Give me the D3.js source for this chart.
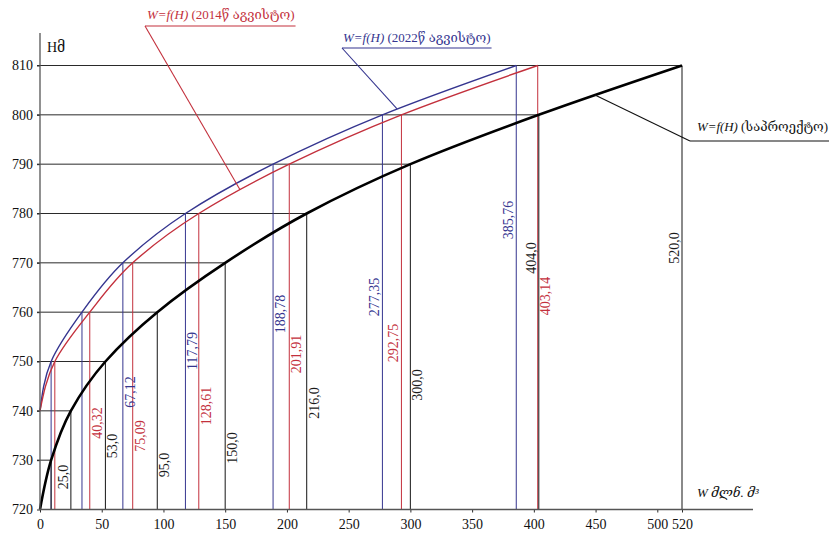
<!DOCTYPE html>
<html>
<head>
<meta charset="utf-8">
<script src="https://cdn.jsdelivr.net/npm/d3@7"></script>
<style>
  html, body { margin: 0; padding: 0; background: #fff; }
  svg { display: block; }
  text { font-family: "Liberation Serif", "DejaVu Serif", serif; }
</style>
</head>
<body>
<svg id="chart" width="832" height="534"></svg>
<script>
// Water level H (m) and reservoir volume W (mln m³)
const designLevels = [720, 730, 740, 750, 760, 770, 780, 790, 800, 810];
const designVolume = [0, 9, 25.0, 53.0, 95.0, 150.0, 216.0, 300.0, 404.0, 520.0];

const surveyLevels = [740, 750, 760, 770, 780, 790, 800, 810];
const volume2014 = [0, 12, 40.32, 75.09, 128.61, 201.91, 292.75, 403.14];
const volume2022 = [0, 9, 34, 67.12, 117.79, 188.78, 277.35, 385.76];

const xTicks = [0, 50, 100, 150, 200, 250, 300, 350, 400, 450, 500, 520];
const yTicks = [720, 730, 740, 750, 760, 770, 780, 790, 800, 810];

// which volumes carry a printed value
const designLabelled = [false, false, true, true, true, true, true, true, true, true];
const labelled2014 = [false, false, true, true, true, true, true, true];
const labelled2022 = [false, false, false, true, true, true, true, true];

// label placement: centre y in px and side of the line (-1 left, +1 right)
const designLabelPos = [null, null, [477, -1], [446, 1], [465, 1], [448, 1], [403, 1], [385, 1], [258, -1], [248, -1]];
const pos2014 = [null, null, [423, 1], [436, 1], [406, 1], [354, 1], [343, -1], [296, 1]];
const pos2022 = [null, null, null, [392, 1], [351, 1], [314, 1], [297, -1], [220, -1]];

const RED = "#c3303c", BLUE = "#35358f", GRID = "#2a2a2a";

const svg = d3.select("#chart");
const x = d3.scaleLinear().domain([0, 520]).range([40, 682]);
const y = d3.scaleLinear().domain([720, 810]).range([509.5, 65.5]);
const y0 = y(720);

const fmt1 = v => d3.format(".1f")(v).replace(".", ",");
const fmt2 = v => d3.format(".2f")(v).replace(".", ",");

// horizontal level lines out to the design curve
svg.append("g").selectAll("line")
  .data(designLevels.map((h, i) => ({ h, w: designVolume[i] })).filter(d => d.h > 720))
  .join("line")
  .attr("x1", x(0) - 3).attr("x2", d => x(d.w))
  .attr("y1", d => y(d.h)).attr("y2", d => y(d.h))
  .attr("stroke", GRID).attr("stroke-width", 1);

// vertical drop lines from each curve point to the W axis
function drops(levels, vols, color, width) {
  svg.append("g").selectAll("line")
    .data(levels.map((h, i) => ({ h, w: vols[i] })).filter(d => d.w > 0))
    .join("line")
    .attr("x1", d => x(d.w)).attr("x2", d => x(d.w))
    .attr("y1", d => y(d.h)).attr("y2", y0)
    .attr("stroke", color).attr("stroke-width", width);
}
drops(surveyLevels, volume2022, BLUE, 1);
drops(surveyLevels, volume2014, RED, 1);
drops(designLevels, designVolume, GRID, 1.1);

// value labels along the drop lines
function valueLabels(vols, flags, pos, fmt, color, family) {
  svg.append("g").selectAll("text")
    .data(vols.map((w, i) => ({ w, p: pos[i] })).filter((d, i) => flags[i]))
    .join("text")
    .attr("transform", d => `translate(${x(d.w) + d.p[1] * 7.5},${d.p[0]}) rotate(-90)`)
    .attr("text-anchor", "middle")
    .attr("dominant-baseline", "central")
    .attr("font-size", 14)
    .attr("fill", color)
    .attr("font-family", d => (family && d.w === 520) ? family : null)
    .text(d => fmt(d.w));
}
valueLabels(designVolume, designLabelled, designLabelPos, fmt1, "#1a1a1a", "Liberation Sans, Arial, sans-serif");
valueLabels(volume2014, labelled2014, pos2014, fmt2, RED);
valueLabels(volume2022, labelled2022, pos2022, fmt2, BLUE);

// volume curves W = f(H), smoothed along the level axis
const line = d3.line().x(d => x(d[0])).y(d => y(d[1])).curve(d3.curveMonotoneY);
svg.append("path").datum(volume2022.map((w, i) => [w, surveyLevels[i]]))
  .attr("d", line).attr("fill", "none").attr("stroke", BLUE).attr("stroke-width", 1.4);
svg.append("path").datum(volume2014.map((w, i) => [w, surveyLevels[i]]))
  .attr("d", line).attr("fill", "none").attr("stroke", RED).attr("stroke-width", 1.4);
svg.append("path").datum(designVolume.map((w, i) => [w, designLevels[i]]))
  .attr("d", line).attr("fill", "none").attr("stroke", "#000").attr("stroke-width", 2.6);

// axes
const xAxis = svg.append("g").attr("transform", `translate(0,${y0})`)
  .call(d3.axisBottom(x).tickValues(xTicks).tickSize(3).tickSizeOuter(0).tickFormat(d3.format("d")));
xAxis.select(".domain").remove();
xAxis.selectAll("text").attr("font-size", 14).attr("fill", "#111").attr("dy", "0.95em")
  .attr("font-family", "Liberation Serif, serif");
xAxis.selectAll("line").attr("stroke", GRID);

const yAxis = svg.append("g").attr("transform", `translate(${x(0)},0)`)
  .call(d3.axisLeft(y).tickValues(yTicks).tickSize(3).tickSizeOuter(0).tickFormat(d3.format("d")));
yAxis.select(".domain").remove();
yAxis.selectAll("text").attr("font-size", 14).attr("fill", "#111").attr("x", -7)
  .attr("font-family", "Liberation Serif, serif");
yAxis.selectAll("line").attr("stroke", GRID);

svg.append("line").attr("x1", x(0)).attr("x2", 753).attr("y1", y0).attr("y2", y0)
  .attr("stroke", "#555").attr("stroke-width", 1.3);
svg.append("line").attr("x1", x(0)).attr("x2", x(0)).attr("y1", y0).attr("y2", 33)
  .attr("stroke", "#555").attr("stroke-width", 1.3);

// axis titles
svg.append("text").attr("x", 47).attr("y", 52).attr("font-size", 14).attr("fill", "#111").text("Hმ");
const xt = svg.append("text").attr("x", 697).attr("y", 497).attr("font-size", 13).attr("fill", "#111");
xt.append("tspan").attr("font-style", "italic").text("W ");
xt.append("tspan").attr("font-style", "italic").text("მლნ. მ³");

// curve callouts
const callouts = [
  { year: "(2014წ აგვისტო)", color: RED, tx: 147, ty: 19, ux: 145, uy: 26, target: [162, 784.8], width: 157 },
  { year: "(2022წ აგვისტო)", color: BLUE, tx: 343, ty: 42, ux: 342, uy: 48, target: [289.2, 801.2], width: 157 },
  { year: "(საპროექტო)", color: "#111", tx: 697, ty: 131, ux: 690, uy: 141, target: [449.5, 804.0], width: 131 }
];
callouts.forEach(c => {
  const t = svg.append("text").attr("x", c.tx).attr("y", c.ty).attr("font-size", 13).attr("fill", c.color);
  t.append("tspan").attr("font-style", "italic").text("W=f(H) ");
  t.append("tspan").text(c.year);
  const len = t.node().getComputedTextLength();
  if (len > c.width) t.attr("textLength", c.width).attr("lengthAdjust", "spacingAndGlyphs");
  const w = Math.min(len, c.width);
  svg.append("line").attr("x1", c.ux).attr("x2", c.tx + w + 1).attr("y1", c.uy).attr("y2", c.uy)
    .attr("stroke", c.color).attr("stroke-width", 1.1);
  svg.append("line").attr("x1", c.ux).attr("y1", c.uy)
    .attr("x2", x(c.target[0])).attr("y2", y(c.target[1]))
    .attr("stroke", c.color).attr("stroke-width", 1.1);
});
</script>
</body>
</html>
